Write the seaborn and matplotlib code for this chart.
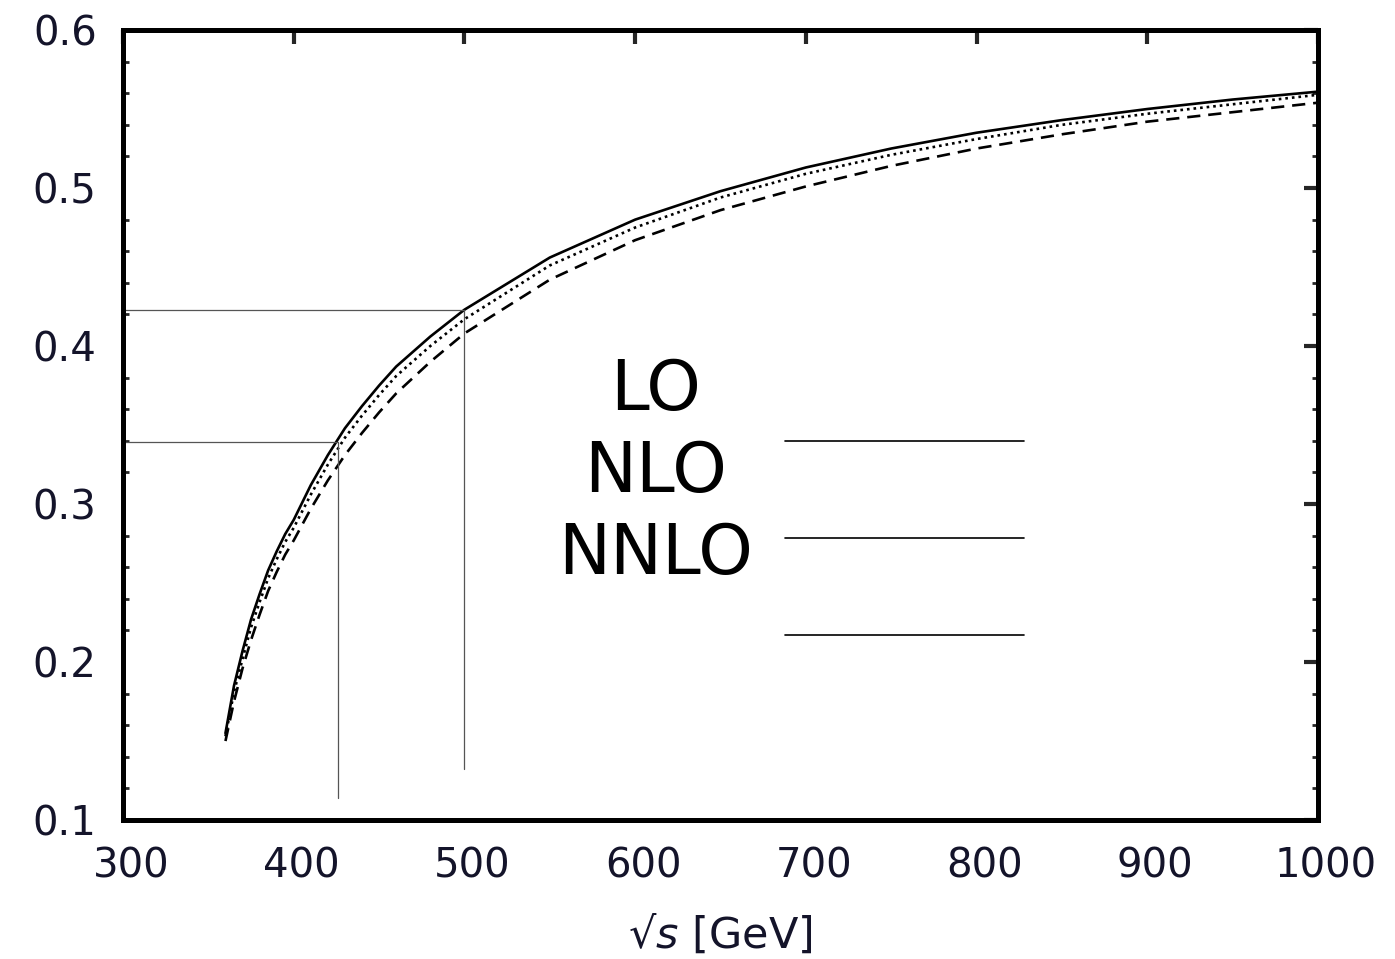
import matplotlib
matplotlib.use('Agg')
import matplotlib.pyplot as plt
from matplotlib.ticker import MultipleLocator, FormatStrFormatter
from matplotlib.transforms import ScaledTranslation
import seaborn as sns
import pandas as pd

# sqrt(s) grid [GeV]
sqrt_s = [360, 365, 370, 375, 380, 385, 390, 395, 400, 410, 420, 430, 440, 450,
          460, 480, 500, 550, 600, 650, 700, 750, 800, 850, 900, 950, 1000]

# three curves
curve_solid = [0.155, 0.185, 0.207, 0.227, 0.243, 0.258, 0.270, 0.281, 0.290, 0.312,
               0.331, 0.348, 0.362, 0.375, 0.387, 0.406, 0.423, 0.456, 0.480, 0.498,
               0.513, 0.525, 0.535, 0.543, 0.550, 0.556, 0.561]
curve_dotted = [0.153, 0.181, 0.202, 0.222, 0.238, 0.253, 0.265, 0.276, 0.285, 0.306,
                0.325, 0.342, 0.356, 0.369, 0.381, 0.400, 0.417, 0.451, 0.475, 0.494,
                0.509, 0.521, 0.531, 0.540, 0.547, 0.553, 0.559]
curve_dashed = [0.150, 0.175, 0.196, 0.214, 0.230, 0.245, 0.257, 0.268, 0.277, 0.297,
                0.315, 0.331, 0.345, 0.358, 0.370, 0.390, 0.408, 0.442, 0.467, 0.486,
                0.501, 0.514, 0.525, 0.534, 0.542, 0.548, 0.554]

# guide lines (x, y) and their lower ends
guide_x = [426, 500]
guide_y = [0.339, 0.423]
guide_bottom = [0.114, 0.132]

# legend text and sample lines
legend_labels = ['LO', 'NLO', 'NNLO']
legend_text_y = [0.372, 0.320, 0.268]
legend_line_y = [0.340, 0.2785, 0.217]

df = pd.concat([
    pd.DataFrame({'sqrt_s': sqrt_s, 'value': curve_solid, 'order': 'solid'}),
    pd.DataFrame({'sqrt_s': sqrt_s, 'value': curve_dotted, 'order': 'dotted'}),
    pd.DataFrame({'sqrt_s': sqrt_s, 'value': curve_dashed, 'order': 'dashed'}),
])

sns.set_style('white')
plt.rcParams['font.family'] = ['DejaVu Sans']

fig = plt.figure(figsize=(13.95, 9.59), dpi=100)
ax = fig.add_axes([0.0882, 0.1449, 0.8566, 0.8238])

sns.lineplot(data=df, x='sqrt_s', y='value', style='order', color='black',
             style_order=['solid', 'dotted', 'dashed'],
             dashes={'solid': '', 'dotted': (1, 1.5), 'dashed': (5, 3)},
             linewidth=1.9, legend=False, ax=ax)

# guide lines
for gx, gy, gb in zip(guide_x, guide_y, guide_bottom):
    ax.plot([300, gx], [gy, gy], color='#555555', linewidth=0.9)
    ax.plot([gx, gx], [gb, gy], color='#555555', linewidth=0.9)

# legend as plain text and lines
for lab, ty in zip(legend_labels, legend_text_y):
    ax.text(611.7, ty, lab, ha='center', va='center', fontsize=50, color='black')
for ly in legend_line_y:
    ax.plot([688, 828], [ly, ly], color='black', linewidth=1.2)

ax.set_xlim(300, 1000)
ax.set_ylim(0.1, 0.6)
ax.xaxis.set_major_locator(MultipleLocator(100))
ax.yaxis.set_major_locator(MultipleLocator(0.1))
ax.yaxis.set_minor_locator(MultipleLocator(0.02))
ax.tick_params(which='major', direction='in', length=10, width=3,
               top=True, right=True, labelsize=29, labelcolor='#14142a')
ax.tick_params(axis='x', pad=19)
ax.tick_params(axis='y', pad=19)
ax.tick_params(which='minor', direction='in', length=4, width=2,
               left=True, right=True)
ax.yaxis.set_major_formatter(FormatStrFormatter('%.1f'))
for sp in ax.spines.values():
    sp.set_linewidth(3.6)
    sp.set_color('black')

# x tick labels sit a little right of their ticks in the original
shift = ScaledTranslation(0.08, 0, fig.dpi_scale_trans)
for lab in ax.get_xticklabels():
    lab.set_transform(lab.get_transform() + shift)

ax.set_xlabel('√$s$ [GeV]', fontsize=31, color='#14142a', va='center')
ax.xaxis.set_label_coords(0.4996, -0.1456)
ax.set_ylabel('')

fig.savefig('out.png', dpi=100)
